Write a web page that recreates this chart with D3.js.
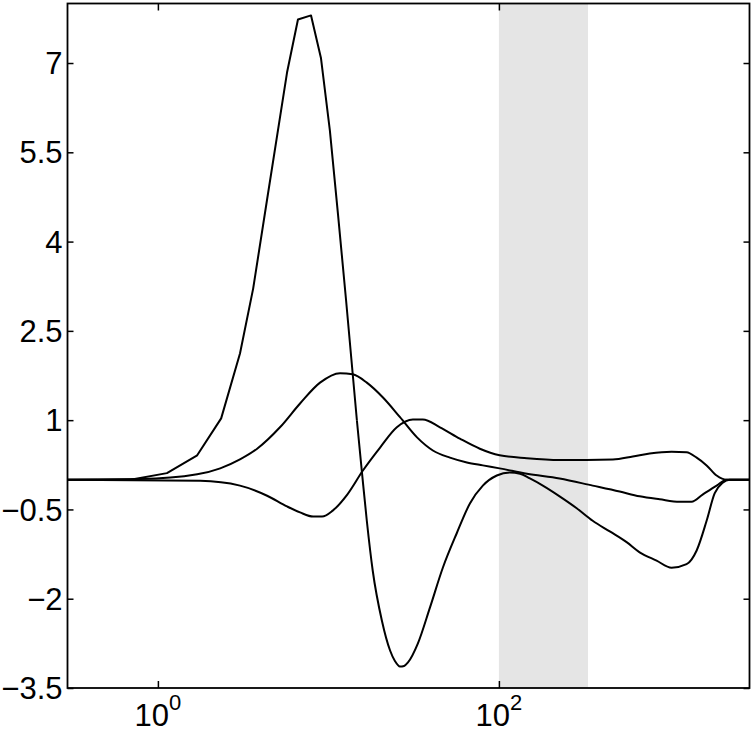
<!DOCTYPE html>
<html lang="en">
<head>
    <meta charset="UTF-8">
    <title>Response curves</title>
    <script src="https://d3js.org/d3.v7.min.js"></script>
    <style>
        body { margin: 0; background: #fff; }
        text { font-family: "Liberation Sans", Arial, Helvetica, sans-serif; fill: #000; }
    </style>
</head>
<body>
    <div id="chart"></div>
    <script>
        // axis settings
        var xDomain = [0.295, 2950],
            yDomain = [-3.5, 8],
            xTicks = [1, 100],
            xTickExp = ["0", "2"],
            yTicks = [-3.5, -2, -0.5, 1, 2.5, 4, 5.5, 7],
            band = [100, 333];

        // curve with the big peak: rising side is a coarse polyline
        var curveAup = [
            [0.295, 0], [0.69, 0.0], [1.13, 0.11], [1.70, 0.41], [2.35, 1.03], [3.03, 2.12],
            [3.62, 3.21], [4.36, 4.69], [5.72, 6.84], [6.63, 7.73], [7.91, 7.80], [9.05, 7.08],
            [10.2, 5.87], [11.4, 4.44], [12.7, 3.01], [14.7, 0.99]
        ];
        // ... and the falling side is smooth
        var curveAdown = [
            [14.7, 0.99], [15.7, 0.15], [16.8, -0.69],
            [18.2, -1.53], [20.6, -2.37], [23.0, -2.87], [24.6, -3.05], [26.3, -3.14], [27.8, -3.13],
            [29.3, -3.07], [33.5, -2.75], [39.4, -2.15], [46.9, -1.48], [56.6, -0.90], [67.6, -0.40],
            [80.5, -0.10], [97.2, 0.07], [116, 0.12], [133, 0.10], [152, 0.02], [181, -0.10],
            [227, -0.28], [286, -0.48], [355, -0.69], [447, -0.87], [561, -1.05], [669, -1.22],
            [841, -1.36], [1030, -1.48], [1261, -1.42], [1445, -1.19], [1653, -0.69], [1842, -0.23],
            [2053, -0.05], [2256, 0], [2950, 0]
        ];

        // curve with the medium peak
        var curveB = [
            [0.295, 0], [0.79, 0.01], [1.70, 0.09], [2.32, 0.19], [3.03, 0.34], [3.82, 0.52],
            [5.20, 0.88], [6.82, 1.28], [8.93, 1.63], [11.7, 1.79], [13.9, 1.77], [16.8, 1.63],
            [20.9, 1.38], [26.3, 1.05], [33.1, 0.71], [41.0, 0.49], [51.6, 0.37], [64.9, 0.29],
            [80.5, 0.24], [101, 0.19], [146, 0.10], [227, 0.02], [355, -0.10], [511, -0.20],
            [669, -0.28], [877, -0.33], [1148, -0.37], [1349, -0.37], [1566, -0.25], [1892, -0.10],
            [2163, 0], [2950, 0]
        ];

        // curve with the dip then the small peak
        var curveC = [
            [0.295, 0], [1.77, -0.02], [3.03, -0.10], [4.37, -0.27], [5.72, -0.45], [6.82, -0.55],
            [8.13, -0.62], [9.18, -0.62], [10.6, -0.52], [12.9, -0.25], [15.9, 0.15], [20.1, 0.54],
            [25.2, 0.88], [31.3, 1.01], [35.8, 1.01], [45.1, 0.88], [59.0, 0.69], [77.3, 0.52],
            [101, 0.41], [146, 0.36], [227, 0.33], [466, 0.34], [610, 0.39], [766, 0.44],
            [1030, 0.47], [1261, 0.46], [1445, 0.37], [1653, 0.24], [1892, 0.07], [2163, 0],
            [2950, 0]
        ];

        var W = 756, H = 733,
            margin = {top: 3.5, right: 6.5, bottom: 45, left: 67.5},
            width = W - margin.left - margin.right,
            height = H - margin.top - margin.bottom;

        var svg = d3.select("#chart").append("svg")
            .attr("width", W)
            .attr("height", H)
            .append("g")
            .attr("transform", "translate(" + margin.left + "," + margin.top + ")");

        var x = d3.scaleLog().domain(xDomain).range([0, width]);
        var y = d3.scaleLinear().domain(yDomain).range([height, 0]);

        // shaded band
        svg.append("rect")
            .attr("x", x(band[0]))
            .attr("y", 0)
            .attr("width", x(band[1]) - x(band[0]))
            .attr("height", height)
            .attr("fill", "#e5e5e5");

        // curves
        var lineLin = d3.line().x(d => x(d[0])).y(d => y(d[1])).curve(d3.curveLinear);
        var lineSmooth = d3.line().x(d => x(d[0])).y(d => y(d[1])).curve(d3.curveMonotoneX);

        function drawCurve(data, gen) {
            svg.append("path").datum(data).attr("d", gen)
                .attr("fill", "none")
                .attr("stroke", "#000")
                .attr("stroke-width", 2)
                .attr("stroke-linejoin", "round");
        }
        drawCurve(curveAup, lineLin);
        drawCurve(curveAdown, lineSmooth);
        drawCurve(curveB, lineSmooth);
        drawCurve(curveC, lineSmooth);

        // y axis, ticks inside on both sides
        var yAxisL = svg.append("g")
            .call(d3.axisRight(y).tickValues(yTicks).tickSize(6).tickFormat(""));
        yAxisL.select(".domain").remove();
        yAxisL.selectAll("line").attr("stroke-width", 1.5);
        var yAxisR = svg.append("g")
            .attr("transform", "translate(" + width + ",0)")
            .call(d3.axisLeft(y).tickValues(yTicks).tickSize(6).tickFormat(""));
        yAxisR.select(".domain").remove();
        yAxisR.selectAll("line").attr("stroke-width", 1.5);

        svg.selectAll(".ylab")
            .data(yTicks).enter().append("text")
            .attr("class", "ylab")
            .attr("x", -5)
            .attr("y", d => y(d))
            .attr("dy", "0.36em")
            .attr("text-anchor", "end")
            .style("font-size", "31px")
            .text(d => d3.format("")(d).replace("-", "\u2212"));

        // x axis, ticks inside top and bottom
        var xAxisB = svg.append("g")
            .attr("transform", "translate(0," + height + ")")
            .call(d3.axisTop(x).tickValues(xTicks).tickSize(7).tickFormat(""));
        xAxisB.select(".domain").remove();
        xAxisB.selectAll("line").attr("stroke-width", 1.5);
        var xAxisT = svg.append("g")
            .call(d3.axisBottom(x).tickValues(xTicks).tickSize(7).tickFormat(""));
        xAxisT.select(".domain").remove();
        xAxisT.selectAll("line").attr("stroke-width", 1.5);

        var xl = svg.selectAll(".xlab")
            .data(xTicks).enter().append("text")
            .attr("class", "xlab")
            .attr("x", d => x(d))
            .attr("y", height + 37.5)
            .attr("text-anchor", "middle")
            .style("font-size", "31px");
        xl.append("tspan").text("10");
        xl.append("tspan")
            .attr("dy", -16)
            .style("font-size", "22px")
            .text((d, i) => xTickExp[i]);

        // frame
        svg.append("rect")
            .attr("width", width)
            .attr("height", height)
            .attr("fill", "none")
            .attr("stroke", "#000")
            .attr("stroke-width", 1.8);
    </script>
</body>
</html>
